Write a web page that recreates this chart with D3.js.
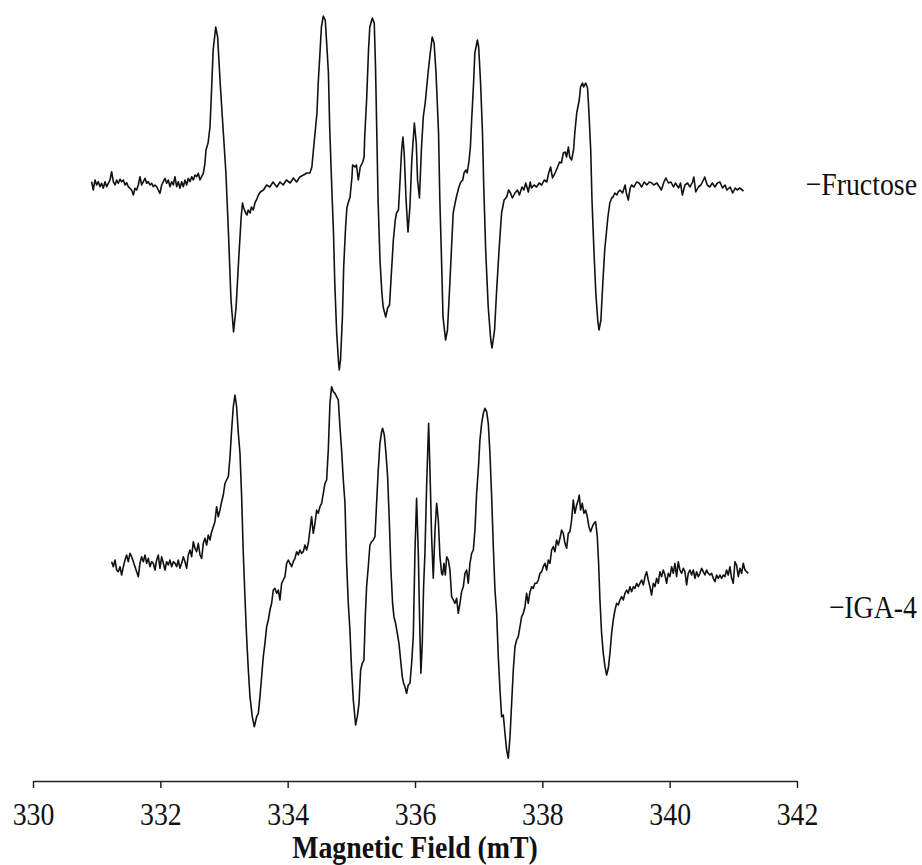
<!DOCTYPE html>
<html><head><meta charset="utf-8">
<script src="https://cdn.jsdelivr.net/npm/d3@7"></script>
<style>body{margin:0;background:#fff} svg{display:block}</style>
</head><body><svg id="chart" width="922" height="865"></svg>
<script>
// ---- data ----
const seriesNames = ["Fructose", "IGA-4"];
const seriesLabels = ["\u2212Fructose", "\u2212IGA-4"];
const fieldTicks = [330, 332, 334, 336, 338, 340, 342];
const axisTitle = "Magnetic Field (mT)";

// [field (mT), EPR signal (a.u.)]
const fructoseSpectrum = [
[330.921,3.3],[330.947,-5],[330.974,5],[331.000,0],[331.026,3.3],[331.052,-1.7],[331.078,1.7],[331.104,-3.3],[331.131,3.3],[331.157,-1.7],
[331.183,1.7],[331.209,5],[331.235,13.3],[331.262,3.3],[331.288,0],[331.314,5],[331.340,1.7],[331.366,5.7],[331.392,3.3],[331.419,5],
[331.445,0],[331.471,2.3],[331.497,-1.7],[331.523,-3.3],[331.549,-5],[331.576,-10],[331.602,-3.3],[331.628,-5],[331.654,0],[331.680,8.3],
[331.707,0],[331.733,3.3],[331.759,6.7],[331.785,1.7],[331.811,3.3],[331.837,0],[331.864,1.7],[331.890,-1.7],[331.916,0],[331.942,-1.7],
[331.968,-5],[331.994,-8.3],[332.021,0],[332.047,3.3],[332.073,6.7],[332.099,1.7],[332.125,5],[332.151,-1.7],[332.178,3.3],[332.204,0],
[332.230,8.3],[332.256,-1.7],[332.282,3.3],[332.308,-3.3],[332.335,3.3],[332.361,-1.7],[332.387,5],[332.413,0],[332.439,6.7],[332.466,3.3],
[332.492,8.3],[332.518,5],[332.544,10],[332.570,8.3],[332.596,11.7],[332.623,5],[332.649,8.3],[332.675,11.7],[332.701,21.7],[332.717,35],
[332.75,42],[332.78,58],[332.80,88],[332.83,135],[332.87,158],[332.90,148],[332.94,102],[332.99,52],[333.03,12],[333.07,-48],
[333.11,-115],[333.15,-147],[333.19,-122],[333.23,-75],[333.27,-32],[333.29,-18],[333.31,-23],[333.34,-28],[333.36,-30],[333.38,-25],
[333.41,-28],[333.43,-22],[333.46,-25],[333.49,-17],[333.51,-15],[333.54,-10],[333.57,-7],[333.62,-5],[333.67,0],[333.72,-2],
[333.77,3],[333.83,-2],[333.88,3],[333.93,0],[333.98,5],[334.04,2],[334.09,7],[334.14,3],[334.19,8],[334.25,10],
[334.30,12],[334.35,12],[334.38,18],[334.40,32],[334.43,52],[334.46,72],[334.48,102],[334.51,135],[334.53,158],[334.56,169],
[334.59,165],[334.61,145],[334.64,112],[334.66,58],[334.69,2],[334.72,-48],[334.74,-98],[334.77,-148],[334.80,-178],[334.81,-185],
[334.83,-175],[334.86,-132],[334.88,-82],[334.91,-42],[334.93,-23],[334.95,-18],[334.98,-12],[335.01,8],[335.02,20],[335.06,18],
[335.08,20],[335.11,5],[335.14,18],[335.18,23],[335.20,28],[335.21,48],[335.24,85],[335.27,135],[335.29,158],[335.33,167],
[335.36,162],[335.38,118],[335.40,52],[335.42,-15],[335.45,-75],[335.48,-108],[335.50,-122],[335.54,-132],[335.57,-123],[335.60,-120],
[335.62,-98],[335.66,-55],[335.69,-35],[335.71,-28],[335.74,-25],[335.76,-2],[335.79,35],[335.81,48],[335.83,32],[335.86,-15],
[335.89,-47],[335.92,-22],[335.95,25],[335.99,62],[336.02,42],[336.04,5],[336.07,-13],[336.10,35],[336.13,68],[336.16,82],
[336.21,115],[336.24,132],[336.27,148],[336.30,142],[336.33,112],[336.37,52],[336.39,-15],[336.42,-82],[336.44,-132],[336.48,-155],
[336.51,-145],[336.54,-108],[336.57,-68],[336.60,-28],[336.63,-18],[336.65,-12],[336.69,-2],[336.72,3],[336.75,5],[336.77,12],
[336.80,15],[336.82,12],[336.85,25],[336.87,38],[336.89,65],[336.92,102],[336.94,132],[336.98,145],[337.00,138],[337.03,102],
[337.06,52],[337.08,-2],[337.11,-65],[337.15,-122],[337.19,-155],[337.21,-163],[337.25,-145],[337.28,-108],[337.32,-65],[337.36,-28],
[337.40,-15],[337.44,-12],[337.47,-5],[337.50,-8],[337.53,-13],[337.57,-8],[337.61,-5],[337.64,-10],[337.68,-2],[337.71,-5],
[337.74,2],[337.78,-7],[337.81,3],[337.83,-3],[337.87,0],[337.91,-2],[337.95,2],[337.99,0],[338.03,5],[338.07,3],
[338.10,12],[338.13,18],[338.16,7],[338.20,12],[338.24,18],[338.27,23],[338.30,22],[338.33,32],[338.36,33],[338.38,28],
[338.41,38],[338.43,28],[338.46,25],[338.49,35],[338.51,52],[338.54,72],[338.58,85],[338.60,98],[338.63,102],[338.65,98],
[338.68,102],[338.71,97],[338.73,75],[338.76,35],[338.78,-15],[338.81,-65],[338.84,-108],[338.87,-135],[338.89,-145],[338.92,-135],
[338.95,-98],[338.98,-65],[339.03,-32],[339.06,-18],[339.09,-13],[339.11,-12],[339.14,-8],[339.17,-10],[339.19,-7],[339.22,-5],
[339.26,-8],[339.30,0],[339.32,-8],[339.35,-15],[339.38,-3],[339.40,0],[339.44,-2],[339.48,3],[339.52,2],[339.56,-2],
[339.60,3],[339.64,0],[339.68,3],[339.72,2],[339.75,0],[339.80,2],[339.84,-2],[339.87,-5],[339.91,3],[339.94,7],
[339.98,2],[340.02,3],[340.06,-2],[340.09,2],[340.14,-3],[340.17,2],[340.20,-10],[340.24,0],[340.28,2],[340.32,-2],
[340.36,3],[340.38,8],[340.41,-7],[340.45,-2],[340.49,0],[340.53,5],[340.55,8],[340.59,0],[340.63,-2],[340.67,2],
[340.71,-2],[340.75,2],[340.79,3],[340.83,-3],[340.87,0],[340.90,-5],[340.95,-2],[340.99,-8],[341.03,-3],[341.06,-5],
[341.10,-3],[341.16,-6]
];

const igaSpectrum = [
[331.235,6.3],[331.261,1.3],[331.288,8],[331.314,-2],[331.340,-3.7],[331.366,1.3],[331.392,-7],[331.419,1.3],[331.445,8],[331.471,13],
[331.497,6.3],[331.523,14.7],[331.549,11.3],[331.576,6.3],[331.602,1.3],[331.628,-3.7],[331.654,-8.7],[331.680,4.7],[331.706,11.3],[331.733,6.3],
[331.759,13],[331.785,4.7],[331.811,9.7],[331.837,1.3],[331.863,6.3],[331.890,4.7],[331.916,-2],[331.942,8],[331.968,13],[331.994,-0.3],
[332.021,11.3],[332.047,4.7],[332.073,-2],[332.099,6.3],[332.125,3],[332.151,8],[332.178,1.3],[332.204,6.3],[332.230,4.7],[332.256,1.3],
[332.282,8],[332.308,-0.3],[332.335,4.7],[332.361,11.3],[332.387,6.3],[332.413,-0.3],[332.439,13],[332.466,18],[332.492,11.3],[332.518,26.3],
[332.544,19.7],[332.570,16.3],[332.596,24.7],[332.623,13],[332.649,9.7],[332.675,24.7],[332.701,29.7],[332.727,23],[332.753,33],[332.780,28],
[332.806,36.3],[332.832,41.3],[332.858,46.3],[332.884,61.3],[332.910,51.3],[332.937,58],[332.963,66.3],[332.989,73],[333.015,84.7],[333.041,88],
[333.068,91.3],[333.094,111.3],[333.120,138],[333.146,161.3],[333.172,173],[333.198,161.3],[333.225,134.7],[333.251,114.7],[333.277,71.3],[333.303,14.7],
[333.329,-28.7],[333.355,-68.7],[333.382,-102],[333.408,-128.7],[333.444,-148.7],[333.476,-158.7],[333.513,-148.7],[333.539,-145.3],[333.565,-128.7],[333.591,-108.7],
[333.617,-88.7],[333.643,-75.3],[333.670,-58.7],[333.696,-52],[333.722,-42],[333.748,-35.3],[333.774,-22],[333.800,-20.3],[333.827,-25.3],[333.853,-22],
[333.879,-32],[333.905,-15.3],[333.931,-12],[333.957,-8.7],[333.984,4.7],[334.010,8],[334.036,4.7],[334.062,1.3],[334.088,6.3],[334.115,9.7],
[334.141,16.3],[334.167,13],[334.193,18],[334.219,14.7],[334.245,16.3],[334.272,23],[334.298,18],[334.324,24.7],[334.350,38],[334.376,51.3],
[334.402,34.7],[334.429,44.7],[334.455,58],[334.481,54.7],[334.507,61.3],[334.533,64.7],[334.560,74.7],[334.586,84.7],[334.612,88],[334.638,118],
[334.664,164.7],[334.690,181.3],[334.717,176.3],[334.743,174.7],[334.769,171.3],[334.795,168],[334.821,141.3],[334.847,118],[334.874,88],[334.900,64.7],
[334.926,4.7],[334.952,-35.3],[334.978,-62],[335.004,-102],[335.031,-132],[335.067,-157],[335.094,-148.7],[335.120,-135.3],[335.146,-102],[335.172,-95.3],
[335.198,-92],[335.219,-48.7],[335.240,-18.7],[335.266,1.3],[335.292,23],[335.319,26.3],[335.345,28],[335.371,31.3],[335.397,64.7],[335.423,98],
[335.449,124.7],[335.476,136.3],[335.491,139.7],[335.518,133],[335.544,114.7],[335.570,91.3],[335.596,48],[335.622,-2],[335.648,-35.3],[335.669,-48.7],
[335.695,-55.3],[335.722,-65.3],[335.748,-75.3],[335.774,-92],[335.800,-108.7],[335.821,-115.3],[335.842,-118.7],[335.868,-125.3],[335.894,-117],[335.921,-115.3],
[335.947,-95.3],[335.973,-68.7],[335.999,14.7],[336.025,69.7],[336.052,14.7],[336.078,-68.7],[336.093,-105.3],[336.114,-75.3],[336.135,-18.7],[336.156,14.7],
[336.182,81.3],[336.214,144.7],[336.235,98],[336.261,31.3],[336.287,-10.3],[336.314,38],[336.340,64.7],[336.366,48],[336.392,11.3],[336.418,-5.3],
[336.434,-7],[336.455,4.7],[336.476,-7],[336.497,11.3],[336.523,8],[336.549,-2],[336.575,-28.7],[336.602,-32],[336.628,-35.3],[336.654,-30.3],
[336.680,-45.3],[336.706,-35.3],[336.732,-23.7],[336.759,-18.7],[336.785,-5.3],[336.811,-2],[336.837,-15.3],[336.863,4.7],[336.890,14.7],[336.916,18],
[336.942,38],[336.968,74.7],[336.994,98],[337.020,128],[337.047,144.7],[337.073,154.7],[337.099,159.7],[337.125,156.3],[337.151,144.7],[337.177,114.7],
[337.204,71.3],[337.230,21.3],[337.256,-22],[337.282,-45.3],[337.308,-88.7],[337.335,-122],[337.361,-148.7],[337.387,-147],[337.413,-165.3],[337.439,-182],
[337.465,-190.3],[337.492,-168.7],[337.518,-135.3],[337.544,-102],[337.570,-78.7],[337.596,-72],[337.622,-68.7],[337.649,-58.7],[337.675,-48.7],[337.701,-45.3],
[337.727,-38.7],[337.753,-25.3],[337.779,-35.3],[337.806,-23.7],[337.832,-18.7],[337.858,-20.3],[337.884,-15.3],[337.910,-15.3],[337.937,-12],[337.963,-5.3],
[337.989,-3.7],[338.015,1.3],[338.041,4.7],[338.067,-2],[338.094,8],[338.120,4.7],[338.146,18],[338.172,21.3],[338.198,16.3],[338.224,28],
[338.251,23],[338.277,29.7],[338.303,38],[338.329,34.7],[338.355,24.7],[338.382,19.7],[338.408,34.7],[338.434,36.3],[338.460,48],[338.486,68],
[338.512,54.7],[338.539,63],[338.565,68],[338.580,73],[338.601,58],[338.627,64.7],[338.654,54.7],[338.680,58],[338.706,51.3],[338.732,41.3],
[338.758,36.3],[338.785,41.3],[338.811,44.7],[338.837,46.3],[338.863,31.3],[338.884,4.7],[338.905,-32],[338.931,-65.3],[338.957,-85.3],[338.984,-98.7],
[339.010,-107],[339.036,-100.3],[339.062,-85.3],[339.088,-65.3],[339.114,-52],[339.141,-42],[339.167,-35.3],[339.193,-37],[339.219,-32],[339.245,-28.7],
[339.271,-32],[339.298,-25.3],[339.324,-22],[339.350,-25.3],[339.376,-18.7],[339.402,-23.7],[339.429,-18.7],[339.455,-20.3],[339.481,-15.3],[339.507,-18.7],
[339.533,-15.3],[339.559,-12],[339.586,-17],[339.612,-8.7],[339.638,-3.7],[339.664,-12],[339.690,-18.7],[339.716,-27],[339.743,-15.3],[339.769,-18.7],
[339.795,-10.3],[339.821,-15.3],[339.847,-3.7],[339.873,-8.7],[339.900,-2],[339.926,-7],[339.952,-15.3],[339.978,-5.3],[340.004,-8.7],[340.031,1.3],
[340.057,-5.3],[340.083,4.7],[340.109,-8.7],[340.135,6.3],[340.161,-2],[340.188,-5.3],[340.214,-0.3],[340.240,-3.7],[340.266,-17],[340.292,-5.3],
[340.318,-2],[340.345,-7],[340.371,-2],[340.397,-10.3],[340.423,-3.7],[340.449,-8.7],[340.476,-5.3],[340.502,-0.3],[340.528,-3.7],[340.554,-7],
[340.580,-2],[340.606,-5.3],[340.633,-7],[340.659,-5.3],[340.685,-10.3],[340.711,-13.7],[340.737,-7],[340.763,-10.3],[340.790,-7],[340.816,-10.3],
[340.842,-7],[340.868,-8.7],[340.894,-2],[340.920,-7],[340.947,1.3],[340.973,-10.3],[340.999,-15.3],[341.025,6.3],[341.051,3],[341.078,-8.7],
[341.104,-0.3],[341.130,-5.3],[341.156,4.7],[341.182,-2],[341.208,-3.7],[341.234,-5.3]
];

const spectra = [fructoseSpectrum, igaSpectrum];

// ---- drawing ----
const svg = d3.select("#chart");
const serif = "'Liberation Serif','Times New Roman',Times,serif";
const stretch = "scale(0.96,1.12)";

const x = d3.scaleLinear().domain([330, 342]).range([33, 797]);
const rowY = d3.scalePoint().domain(seriesNames).range([185, 568]);
const y = d3.scaleLinear().domain([-200, 200]).range([200, -200]);

const line = d3.line().x(d => x(d[0])).y(d => y(d[1]));

seriesNames.forEach((name, i) => {
  const g = svg.append("g").attr("transform", `translate(0,${rowY(name)})`);
  g.append("path")
    .datum(spectra[i])
    .attr("fill", "none")
    .attr("stroke", "#111")
    .attr("stroke-width", 1.6)
    .attr("stroke-linejoin", "round")
    .attr("d", line);
});

// series labels
svg.selectAll("text.series")
  .data(seriesNames)
  .join("text")
  .attr("class", "series")
  .attr("transform", (d, i) => `translate(917,${rowY(d) + (i === 0 ? 10 : 50)}) ${stretch}`)
  .attr("text-anchor", "end")
  .attr("font-family", serif)
  .attr("font-size", 29)
  .attr("fill", "#111")
  .text((d, i) => seriesLabels[i]);

// x axis
const axis = svg.append("g")
  .attr("transform", "translate(0,781)")
  .call(d3.axisBottom(x).tickValues(fieldTicks).tickSize(7).tickSizeOuter(0).tickFormat(d3.format("d")));
axis.select(".domain").attr("stroke", "#222").attr("stroke-width", 1.5);
axis.selectAll(".tick line").attr("stroke", "#222").attr("stroke-width", 1.5);
axis.selectAll(".tick text")
  .attr("y", null).attr("dy", null)
  .attr("transform", `translate(0,44) ${stretch}`)
  .attr("font-family", serif)
  .attr("font-size", 29)
  .attr("fill", "#111");

svg.append("text")
  .attr("transform", `translate(415,858) ${stretch}`)
  .attr("text-anchor", "middle")
  .attr("font-family", serif)
  .attr("font-weight", "bold")
  .attr("font-size", 29)
  .attr("fill", "#111")
  .text(axisTitle);
</script>
</body></html>
